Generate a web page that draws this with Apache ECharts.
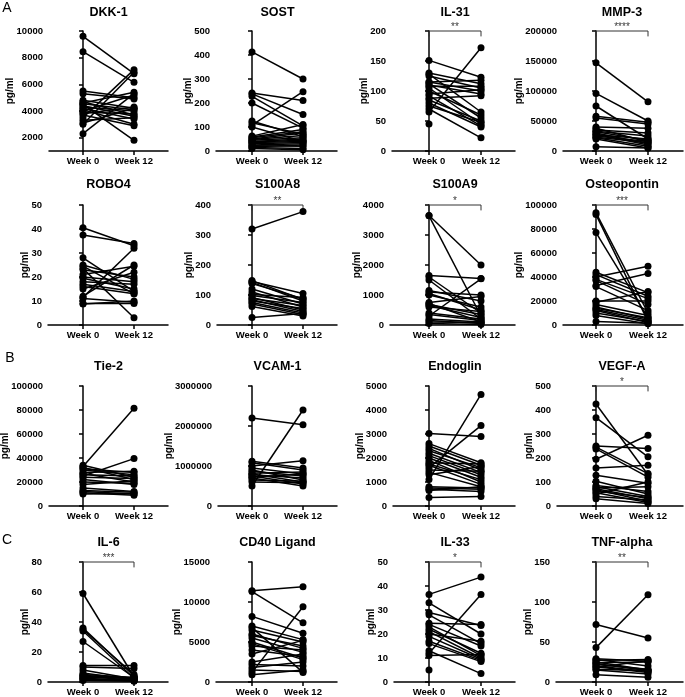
<!DOCTYPE html>
<html>
<head>
<meta charset="utf-8">
<script src="https://cdn.jsdelivr.net/npm/echarts@6/dist/echarts.min.js"></script>
<style>
  html, body { margin: 0; padding: 0; background: #fff; }
  #chart { width: 685px; height: 697px; }
</style>
</head>
<body>
<div id="chart"></div>
<script>
// paired values, week 0 -> week 12 (pg/ml)
const weekLabels = ['Week 0', 'Week 12'];

const dkk1Week0 = [9600, 8450, 5500, 5300, 4800, 4700, 4600, 4550, 4400, 4300, 4200, 4100, 4000, 3900, 3800, 3700, 3500, 3300, 3100, 3000, 2300, 4500];
const dkk1Week12 = [6800, 6150, 5000, 4900, 4200, 3700, 5400, 4100, 3600, 4000, 3400, 3000, 5200, 3800, 4300, 2900, 7100, 3500, 4200, 6900, 5300, 1800];

const sostWeek0 = [413, 242, 238, 228, 200, 125, 118, 108, 100, 62, 58, 55, 50, 48, 45, 40, 38, 35, 30, 25, 22, 18, 15, 10];
const sostWeek12 = [300, 210, 152, 105, 95, 60, 70, 247, 40, 110, 90, 80, 75, 65, 55, 50, 45, 40, 35, 30, 20, 25, 10, 5];

const il31Week0 = [151, 130, 128, 125, 115, 115, 112, 110, 108, 105, 100, 95, 92, 88, 85, 80, 75, 70, 65, 45];
const il31Week12 = [123, 112, 65, 105, 118, 100, 55, 95, 108, 45, 60, 102, 42, 92, 50, 40, 48, 22, 172, null];

const mmp3Week0 = [147000, 96000, 75000, 58000, 55000, 40000, 38000, 35000, 33000, 32000, 30000, 28000, 27000, 25000, 23000, 22000, 20000, 7000];
const mmp3Week12 = [82000, 50000, 20000, 48000, 45000, 38000, 15000, 30000, 25000, 18000, 12000, 10000, 20000, 16000, 14000, 8000, 5000, 5000];

const robo4Week0 = [40.5, 37.5, 28, 25, 24.5, 23.5, 23, 21, 20, 19.5, 18, 17, 16, 15, 12, 11.5, 11, 9, 8.8];
const robo4Week12 = [33, 34, 14, 19, 13, 3, 20, 24.5, 18, 15, 17, 14, 13, 22, 25, 32, 9.5, 9, 10];

const s100a8Week0 = [320, 148, 145, 142, 138, 120, 110, 102, 98, 92, 88, 84, 80, 75, 70, 62, 25];
const s100a8Week12 = [378, 85, 105, 80, 88, 70, 60, 92, 75, 50, 65, 45, 55, 40, 35, 30, 38];

const s100a9Week0 = [3650, 3640, 1650, 1600, 1500, 1150, 1100, 1050, 1000, 750, 720, 680, 650, 600, 400, 350, 300, 200, 150, 100, 50];
const s100a9Week12 = [2000, 300, 1550, 400, 200, 800, 1000, 500, 600, 950, 100, 350, 250, 450, 200, 150, 1540, 100, 50, 80, 20];

const opnWeek0 = [93500, 92000, 77000, 44000, 42000, 40000, 38000, 37000, 33000, 32000, 20000, 19000, 17000, 15000, 14000, 13000, 12000, 10000, 8000, 3000];
const opnWeek12 = [10000, 3000, 6000, 27000, 24000, 49000, 22000, 17000, 43000, 12000, 20000, 28000, 8000, 5000, 6000, 4000, 2000, 3000, 1000, 1500];

const tie2Week0 = [34000, 33000, 32000, 31000, 30000, 28000, 27000, 26000, 25000, 24000, 22000, 20000, 18000, 15000, 13000, 12000, 11000, 10000];
const tie2Week12 = [24000, 81500, 22000, 28000, 26000, 29000, 20000, 25000, 39500, 23000, 18000, 19000, 21000, 12000, 11500, 10000, 9000, 10500];

const vcam1Week0 = [2200000, 1120000, 1080000, 1000000, 950000, 900000, 870000, 820000, 800000, 780000, 750000, 720000, 700000, 650000, 600000, 500000];
const vcam1Week12 = [2030000, 950000, 900000, 1130000, 800000, 650000, 750000, 850000, 600000, 700000, 550000, 800000, 500000, 620000, 580000, 2400000];

const endoglinWeek0 = [3020, 2600, 2500, 2400, 2300, 2200, 2100, 2000, 1900, 1800, 1750, 1700, 1600, 1500, 1400, 1300, 1100, 800, 750, 700, 650, 350];
const endoglinWeek12 = [2900, 1800, 1700, 1500, 1600, 1400, 1300, 1200, 1000, 1750, 1100, 900, 3350, 1450, 800, 1650, 4650, 750, 700, 600, 800, 400];

const vegfaWeek0 = [425, 368, 250, 245, 238, 195, 158, 128, 103, 85, 80, 75, 72, 68, 62, 55, 50, 40, 30];
const vegfaWeek12 = [130, 205, 240, 135, 120, 295, 170, 95, 50, 60, 40, 80, 30, 20, 35, 15, 100, 25, 10];

const il6Week0 = [59, 36, 35, 34, 27, 11, 10, 8, 6, 5, 4.5, 4, 3.5, 3, 2.5, 2, 1.5, 1];
const il6Week12 = [3.5, 4, 5, 2.5, 3, 11, 9, 2, 1.5, 3, 2, 1, 3, 2.5, 1, 0.8, 1.2, 0.5];

const cd40lWeek0 = [11400, 11300, 8200, 7000, 6800, 6500, 6000, 5800, 5500, 5000, 4800, 4500, 4000, 3500, 2500, 2200, 1800, 1500, 1200, 900];
const cd40lWeek12 = [11900, 7400, 6100, 5300, 1200, 5000, 4200, 4500, 3700, 3000, 2800, 4000, 3200, 5200, 3500, 2000, 2500, 1300, 9400, 1500];

const il33Week0 = [36.5, 33, 29, 28, 24.5, 24, 23, 22, 21, 20, 19, 17, 16, 13, 12, 11, 5];
const il33Week12 = [43.7, 20, 23.5, 16, 24, 15, 11, 12, 10, 17, 9.5, 9, 8.5, 3.5, 36.5, 11.5, null];

const tnfWeek0 = [72, 43, 29, 28, 27, 25, 24, 23, 22, 20, 19, 18, 16, 15, 9];
const tnfWeek12 = [55, 109, 26, 20, 28, 15, 25, 14, 16, 13, 12, 27, 14, 10, 6];

// layout (pixels)
const FONT = '"Liberation Sans", Arial, sans-serif';
const tickFont = 9.5;
const rowTop = [31, 205, 386, 562];
const titleY = [13, 185, 367, 543];
const plotH = 120;
const colWeekX = [[83, 134], [252, 303], [429, 481], [596, 648]];
const colRight = [168, 337, 515, 683];

const panels = [
  { name: 'DKK-1', w0: dkk1Week0, w12: dkk1Week12, min: 1000, max: 10000, step: 2000, first: 2000, stars: '', axisX: 49 },
  { name: 'SOST', w0: sostWeek0, w12: sostWeek12, min: 0, max: 500, step: 100, stars: '', axisX: 216 },
  { name: 'IL-31', w0: il31Week0, w12: il31Week12, min: 0, max: 200, step: 50, stars: '**', axisX: 392 },
  { name: 'MMP-3', w0: mmp3Week0, w12: mmp3Week12, min: 0, max: 200000, step: 50000, stars: '****', axisX: 563 },
  { name: 'ROBO4', w0: robo4Week0, w12: robo4Week12, min: 0, max: 50, step: 10, stars: '', axisX: 48 },
  { name: 'S100A8', w0: s100a8Week0, w12: s100a8Week12, min: 0, max: 400, step: 100, stars: '**', axisX: 217 },
  { name: 'S100A9', w0: s100a9Week0, w12: s100a9Week12, min: 0, max: 4000, step: 1000, stars: '*', axisX: 390 },
  { name: 'Osteopontin', w0: opnWeek0, w12: opnWeek12, min: 0, max: 100000, step: 20000, stars: '***', axisX: 563 },
  { name: 'Tie-2', w0: tie2Week0, w12: tie2Week12, min: 0, max: 100000, step: 20000, stars: '', axisX: 49 },
  { name: 'VCAM-1', w0: vcam1Week0, w12: vcam1Week12, min: 0, max: 3000000, step: 1000000, stars: '', axisX: 218 },
  { name: 'Endoglin', w0: endoglinWeek0, w12: endoglinWeek12, min: 0, max: 5000, step: 1000, stars: '', axisX: 393 },
  { name: 'VEGF-A', w0: vegfaWeek0, w12: vegfaWeek12, min: 0, max: 500, step: 100, stars: '*', axisX: 557 },
  { name: 'IL-6', w0: il6Week0, w12: il6Week12, min: 0, max: 80, step: 20, stars: '***', axisX: 48 },
  { name: 'CD40 Ligand', w0: cd40lWeek0, w12: cd40lWeek12, min: 0, max: 15000, step: 5000, stars: '', axisX: 216 },
  { name: 'IL-33', w0: il33Week0, w12: il33Week12, min: 0, max: 50, step: 10, stars: '*', axisX: 394 },
  { name: 'TNF-alpha', w0: tnfWeek0, w12: tnfWeek12, min: 0, max: 150, step: 50, stars: '**', axisX: 556 }
];

const black = '#000';
const grids = [], xAxes = [], yAxes = [], series = [], graphics = [];

panels.forEach((p, i) => {
  const row = Math.floor(i / 4), col = i % 4;
  const [x0, x1] = colWeekX[col];
  const sp = x1 - x0;
  const right = colRight[col];
  const top = rowTop[row];

  grids.push({ left: p.axisX, top: top, width: right - p.axisX, height: plotH });

  xAxes.push({
    gridIndex: i, type: 'value',
    min: -(x0 - p.axisX) / sp, max: 1 + (right - x1) / sp,
    axisLine: { lineStyle: { color: black, width: 1.5 } },
    axisTick: { customValues: [0, 1], length: 4, lineStyle: { color: black, width: 1.5 } },
    axisLabel: {
      customValues: [0, 1], margin: 5,
      formatter: v => weekLabels[Math.round(v)],
      color: black, fontFamily: FONT, fontWeight: 'bold', fontSize: 9.5
    },
    splitLine: { show: false }
  });

  const ticks = [];
  for (let v = (p.first ?? p.min); v <= p.max + 1e-9; v += p.step) ticks.push(v);
  yAxes.push({
    gridIndex: i, type: 'value', min: p.min, max: p.max,
    axisLine: { show: true, lineStyle: { color: black, width: 1.5 } },
    axisTick: { show: true, customValues: ticks, length: 4, lineStyle: { color: black, width: 1.5 } },
    axisLabel: {
      customValues: ticks, margin: 6, formatter: v => String(v),
      color: black, fontFamily: FONT, fontWeight: 'bold', fontSize: tickFont
    },
    splitLine: { show: false }
  });

  p.w0.forEach((v, k) => {
    const data = [[0, v]];
    if (p.w12[k] != null) data.push([1, p.w12[k]]);
    series.push({
      type: 'line', xAxisIndex: i, yAxisIndex: i, data: data,
      symbol: 'circle', symbolSize: 7, clip: false, silent: true, animation: false,
      itemStyle: { color: black }, lineStyle: { color: black, width: 1.5 }
    });
  });

  if (p.stars) {
    const r = p.max - p.min, drop = p.max - r * 0.045;
    series.push({
      type: 'line', xAxisIndex: i, yAxisIndex: i,
      data: [[0, drop], [0, p.max], [1, p.max], [1, drop]],
      symbol: 'none', clip: false, silent: true, animation: false,
      lineStyle: { color: '#333', width: 1 }
    });
    series.push({
      type: 'scatter', xAxisIndex: i, yAxisIndex: i,
      data: [[0.5, p.max]], symbolSize: 1, clip: false, silent: true, animation: false,
      itemStyle: { color: 'rgba(0,0,0,0)' },
      label: { show: true, position: 'top', distance: -2, formatter: p.stars,
               color: black, fontFamily: FONT, fontSize: 10 }
    });
  }

  // axis title sits just left of the widest tick label
  const labelW = String(p.max).length * 0.556 * tickFont;
  graphics.push({
    type: 'text', x: (x0 + x1) / 2, y: titleY[row],
    style: { text: p.name, font: 'bold 12.5px ' + FONT, fill: black, textAlign: 'center', textVerticalAlign: 'middle' }
  });
  graphics.push({
    type: 'text', x: p.axisX - 6 - labelW - 6, y: top + plotH / 2, rotation: Math.PI / 2,
    style: { text: 'pg/ml', font: 'bold 10px ' + FONT, fill: black, textAlign: 'center', textVerticalAlign: 'middle' }
  });
});

[['A', 7, 8], ['B', 10, 358], ['C', 7, 540]].forEach(([t, x, y]) => {
  graphics.push({
    type: 'text', x: x, y: y,
    style: { text: t, font: '14px ' + FONT, fill: black, textAlign: 'center', textVerticalAlign: 'middle' }
  });
});

const chart = echarts.init(document.getElementById('chart'), null, { renderer: 'canvas' });
chart.setOption({
  backgroundColor: '#fff',
  animation: false,
  grid: grids,
  xAxis: xAxes,
  yAxis: yAxes,
  series: series,
  graphic: graphics
});
</script>
</body>
</html>
